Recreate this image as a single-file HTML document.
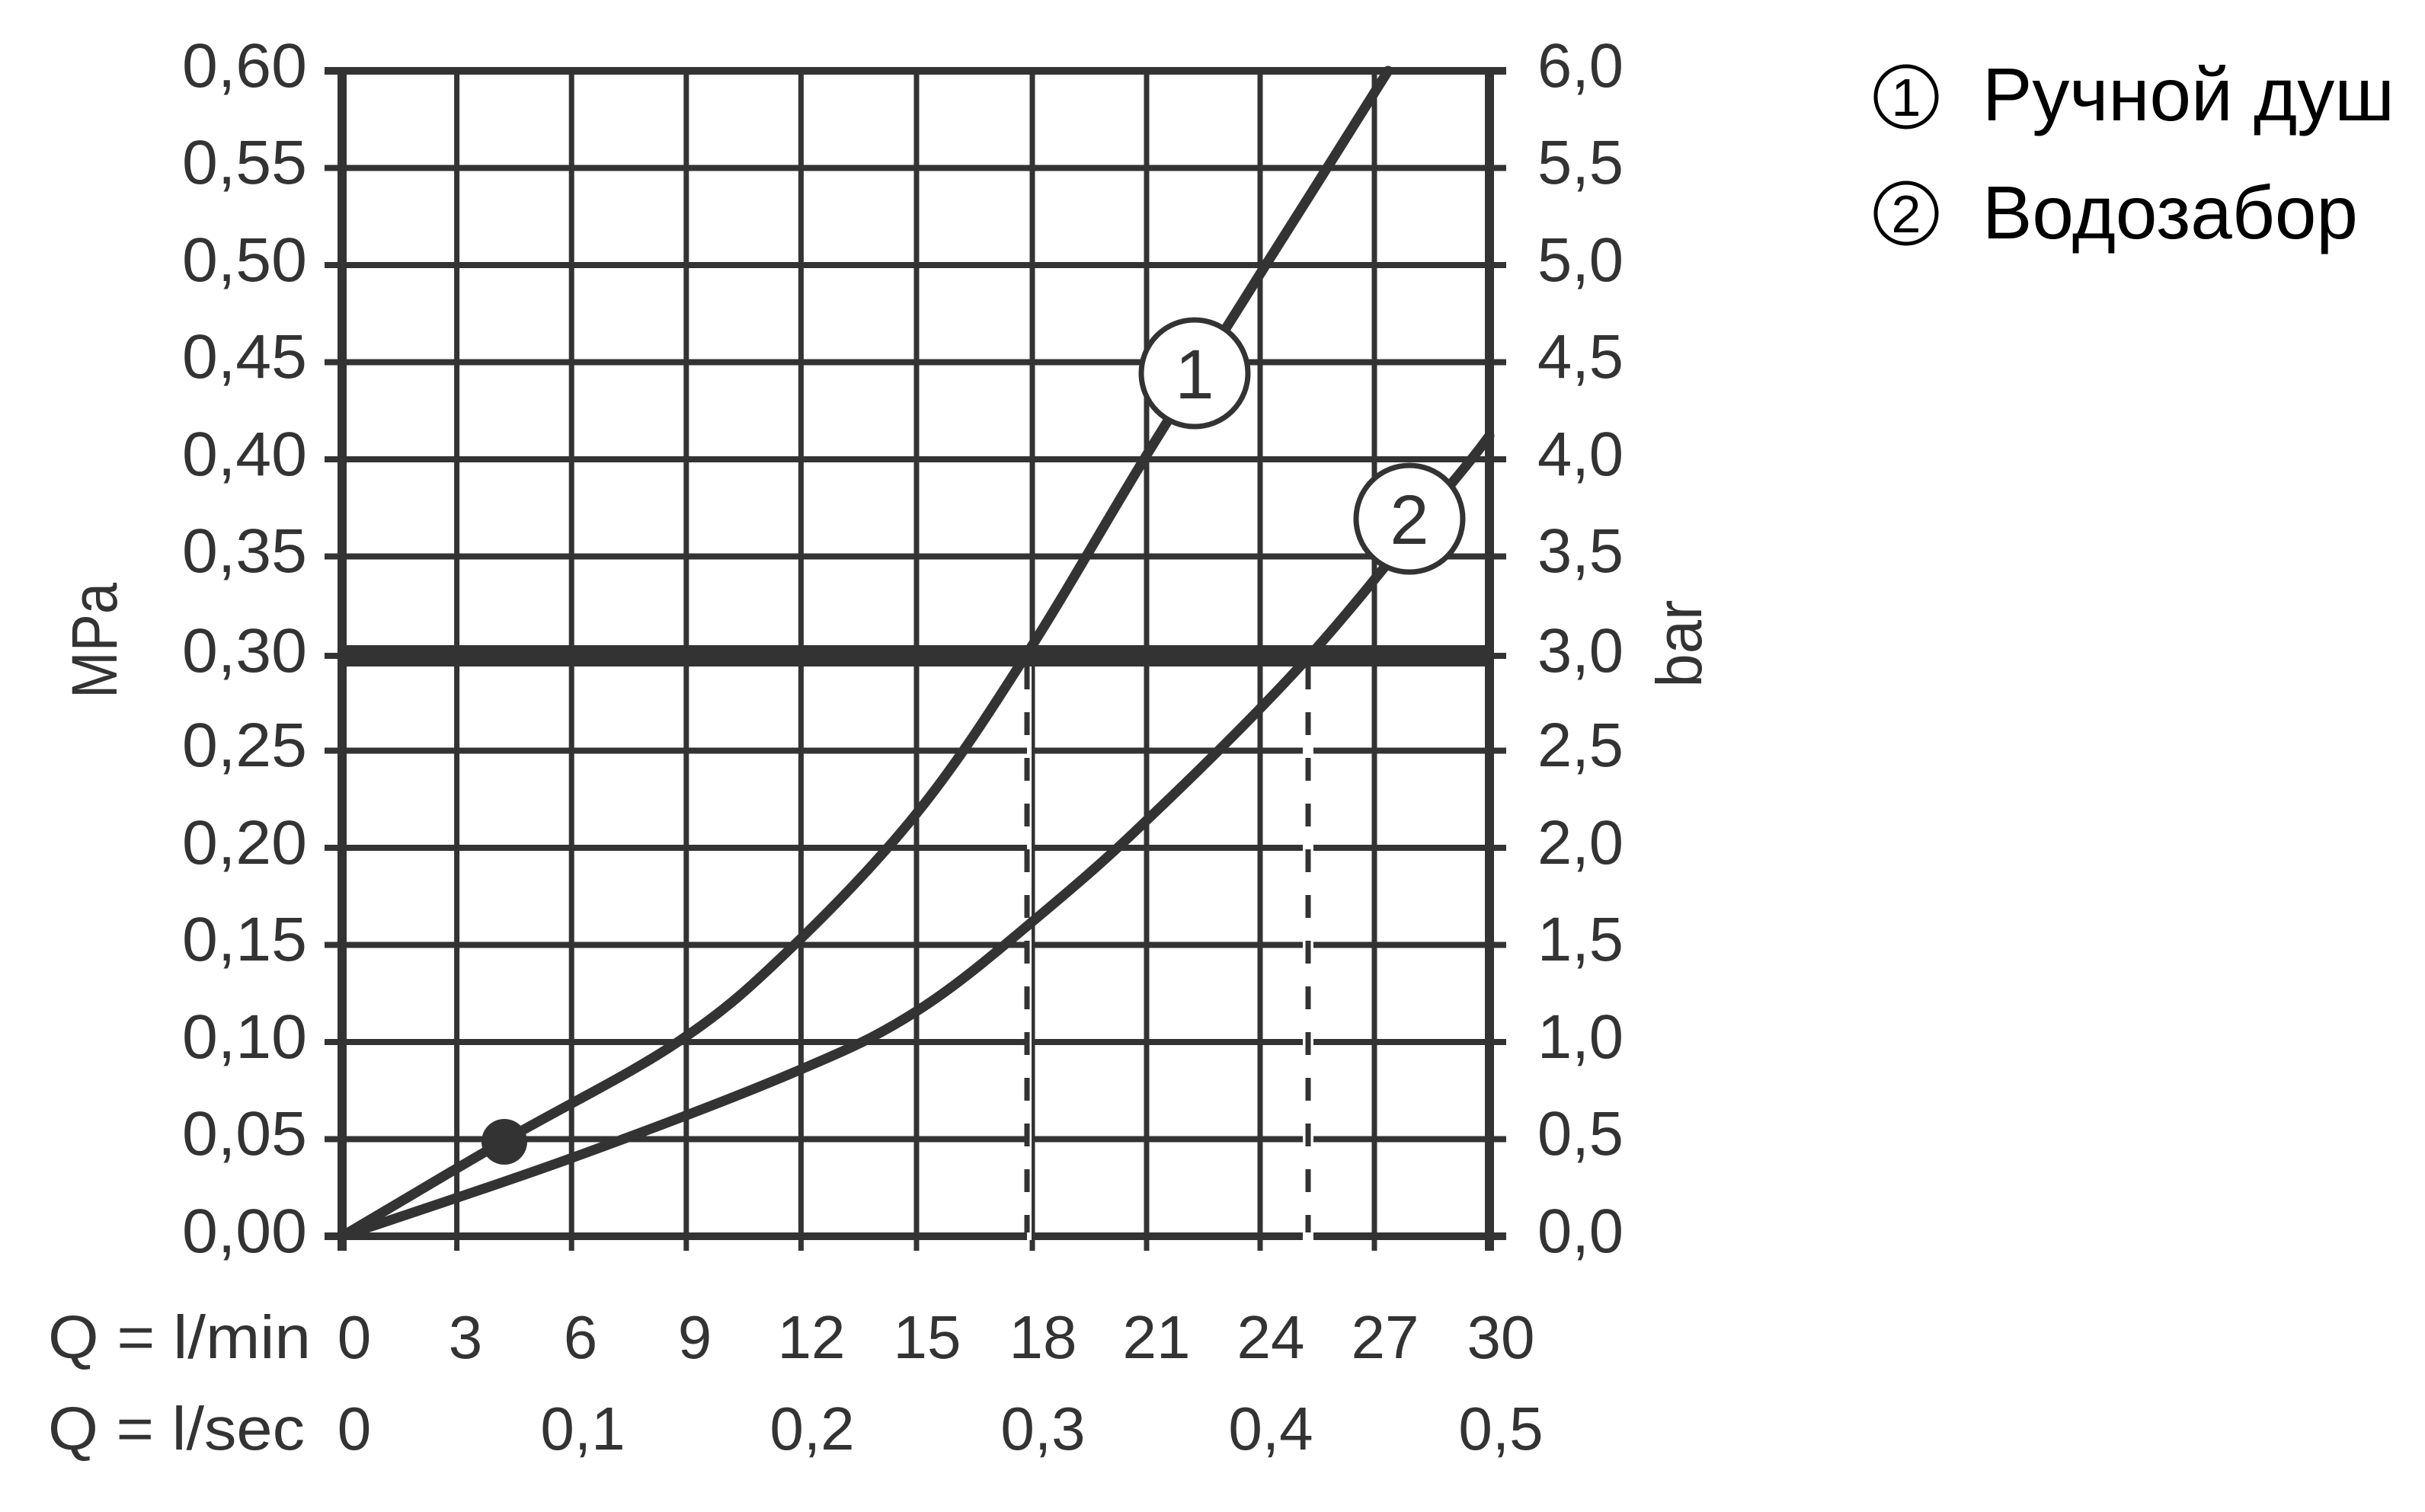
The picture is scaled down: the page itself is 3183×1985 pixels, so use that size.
<!DOCTYPE html>
<html><head><meta charset="utf-8"><style>
html,body{margin:0;padding:0;background:#fff;}
svg{display:block;}
</style></head><body>
<svg width="3183" height="1985" viewBox="0 0 3183 1985" xmlns="http://www.w3.org/2000/svg">
<rect width="3183" height="1985" fill="#fff"/>
<g stroke="#333" fill="none">
  <g stroke-width="7">
    <line x1="599.6" y1="93" x2="599.6" y2="1642"/>
    <line x1="750.2" y1="93" x2="750.2" y2="1642"/>
    <line x1="900.8" y1="93" x2="900.8" y2="1642"/>
    <line x1="1051.4" y1="93" x2="1051.4" y2="1642"/>
    <line x1="1203" y1="93" x2="1203" y2="1642"/>
    <line x1="1355" y1="93" x2="1355" y2="1642"/>
    <line x1="1505" y1="93" x2="1505" y2="1642"/>
    <line x1="1654" y1="93" x2="1654" y2="1642"/>
    <line x1="1804" y1="93" x2="1804" y2="1642"/>
  </g>
  <g stroke-width="8">
    <line x1="426" y1="220.5" x2="1977" y2="220.5"/>
    <line x1="426" y1="348" x2="1977" y2="348"/>
    <line x1="426" y1="475.5" x2="1977" y2="475.5"/>
    <line x1="426" y1="603" x2="1977" y2="603"/>
    <line x1="426" y1="730.5" x2="1977" y2="730.5"/>
    <line x1="426" y1="985.5" x2="1977" y2="985.5"/>
    <line x1="426" y1="1113" x2="1977" y2="1113"/>
    <line x1="426" y1="1240.5" x2="1977" y2="1240.5"/>
    <line x1="426" y1="1368" x2="1977" y2="1368"/>
    <line x1="426" y1="1495.5" x2="1977" y2="1495.5"/>
  </g>
  <line x1="426" y1="93" x2="1977" y2="93" stroke-width="10"/>
  <line x1="426" y1="1623" x2="1977" y2="1623" stroke-width="10"/>
  <line x1="426" y1="861" x2="1977" y2="861" stroke-width="8"/>
  <line x1="449" y1="861" x2="1955" y2="861" stroke-width="28"/>
  <line x1="449" y1="88" x2="449" y2="1642" stroke-width="12"/>
  <line x1="1955" y1="88" x2="1955" y2="1642" stroke-width="12"/>
  <line x1="1351" y1="875" x2="1351" y2="1628" stroke="#fff" stroke-width="6"/>
  <line x1="1348" y1="875" x2="1348" y2="1618" stroke-width="7" stroke-dasharray="30 30"/>
  <line x1="1717" y1="875" x2="1717" y2="1628" stroke="#fff" stroke-width="14"/>
  <line x1="1717" y1="875" x2="1717" y2="1618" stroke-width="7" stroke-dasharray="30 30"/>
  <g stroke-width="13" stroke-linejoin="round" stroke-linecap="round">
    <path d="M449,1623 C484,1602 587,1541 661,1498 C735,1455 828,1410 891,1367 C954,1325 987,1294 1040,1243 C1093,1192 1156,1127 1207,1063 C1258,999 1299,935 1348,858 C1397,782 1449,689 1501,604 C1553,519 1607,435 1660,350 C1714,265 1795,136 1822,93"/>
    <path d="M449,1623 C499,1606 652,1556 751,1520 C850,1484 969,1439 1044,1407 C1120,1375 1152,1360 1204,1327 C1256,1294 1305,1252 1355,1210 C1405,1168 1445,1135 1505,1077 C1566,1019 1651,936 1718,862 C1785,788 1866,683 1905,635 C1945,587 1947,582 1955,572"/>
  </g>
  <ellipse cx="662" cy="1499" rx="30" ry="30" fill="#333" stroke="none"/>
  <circle cx="1568" cy="490" r="70" fill="#fff" stroke-width="7"/>
  <circle cx="1850" cy="681" r="70" fill="#fff" stroke-width="7"/>
</g>
<g font-family="'Liberation Sans', sans-serif" fill="#333">
  <text x="1568" y="523" font-size="92" text-anchor="middle">1</text>
  <text x="1850" y="714" font-size="92" text-anchor="middle">2</text>
</g>
<g font-family="'Liberation Sans', sans-serif" font-size="82" fill="#333" text-anchor="end">
  <text x="403" y="114" textLength="164" lengthAdjust="spacingAndGlyphs">0,60</text>
  <text x="403" y="241" textLength="164" lengthAdjust="spacingAndGlyphs">0,55</text>
  <text x="403" y="369" textLength="164" lengthAdjust="spacingAndGlyphs">0,50</text>
  <text x="403" y="496" textLength="164" lengthAdjust="spacingAndGlyphs">0,45</text>
  <text x="403" y="624" textLength="164" lengthAdjust="spacingAndGlyphs">0,40</text>
  <text x="403" y="751" textLength="164" lengthAdjust="spacingAndGlyphs">0,35</text>
  <text x="403" y="882" textLength="164" lengthAdjust="spacingAndGlyphs">0,30</text>
  <text x="403" y="1006" textLength="164" lengthAdjust="spacingAndGlyphs">0,25</text>
  <text x="403" y="1134" textLength="164" lengthAdjust="spacingAndGlyphs">0,20</text>
  <text x="403" y="1261" textLength="164" lengthAdjust="spacingAndGlyphs">0,15</text>
  <text x="403" y="1389" textLength="164" lengthAdjust="spacingAndGlyphs">0,10</text>
  <text x="403" y="1516" textLength="164" lengthAdjust="spacingAndGlyphs">0,05</text>
  <text x="403" y="1644" textLength="164" lengthAdjust="spacingAndGlyphs">0,00</text>
</g>
<g font-family="'Liberation Sans', sans-serif" font-size="82" fill="#333">
  <text x="2018" y="114" textLength="113" lengthAdjust="spacingAndGlyphs">6,0</text>
  <text x="2018" y="241" textLength="113" lengthAdjust="spacingAndGlyphs">5,5</text>
  <text x="2018" y="369" textLength="113" lengthAdjust="spacingAndGlyphs">5,0</text>
  <text x="2018" y="496" textLength="113" lengthAdjust="spacingAndGlyphs">4,5</text>
  <text x="2018" y="624" textLength="113" lengthAdjust="spacingAndGlyphs">4,0</text>
  <text x="2018" y="751" textLength="113" lengthAdjust="spacingAndGlyphs">3,5</text>
  <text x="2018" y="882" textLength="113" lengthAdjust="spacingAndGlyphs">3,0</text>
  <text x="2018" y="1006" textLength="113" lengthAdjust="spacingAndGlyphs">2,5</text>
  <text x="2018" y="1134" textLength="113" lengthAdjust="spacingAndGlyphs">2,0</text>
  <text x="2018" y="1261" textLength="113" lengthAdjust="spacingAndGlyphs">1,5</text>
  <text x="2018" y="1389" textLength="113" lengthAdjust="spacingAndGlyphs">1,0</text>
  <text x="2018" y="1516" textLength="113" lengthAdjust="spacingAndGlyphs">0,5</text>
  <text x="2018" y="1644" textLength="113" lengthAdjust="spacingAndGlyphs">0,0</text>
</g>
<g font-family="'Liberation Sans', sans-serif" font-size="84" fill="#333">
  <text transform="translate(153,841) rotate(-90)" text-anchor="middle" textLength="152" lengthAdjust="spacingAndGlyphs">MPa</text>
  <text transform="translate(2233,845) rotate(-90)" text-anchor="middle" textLength="115" lengthAdjust="spacingAndGlyphs">bar</text>
</g>
<g font-family="'Liberation Sans', sans-serif" font-size="80" fill="#333" text-anchor="middle">
  <text x="63" y="1783" text-anchor="start" textLength="345" lengthAdjust="spacingAndGlyphs">Q = l/min</text>
  <text x="465" y="1783">0</text>
  <text x="611" y="1783">3</text>
  <text x="762" y="1783">6</text>
  <text x="912" y="1783">9</text>
  <text x="1065" y="1783">12</text>
  <text x="1217" y="1783">15</text>
  <text x="1369" y="1783">18</text>
  <text x="1518" y="1783">21</text>
  <text x="1668" y="1783">24</text>
  <text x="1818" y="1783">27</text>
  <text x="1970" y="1783">30</text>
  <text x="63" y="1903" text-anchor="start" textLength="337" lengthAdjust="spacingAndGlyphs">Q = l/sec</text>
  <text x="465" y="1903">0</text>
  <text x="765" y="1903">0,1</text>
  <text x="1066" y="1903">0,2</text>
  <text x="1369" y="1903">0,3</text>
  <text x="1668" y="1903">0,4</text>
  <text x="1970" y="1903">0,5</text>
</g>
<g fill="none" stroke="#000" stroke-width="5">
  <circle cx="2502" cy="127" r="40"/>
  <circle cx="2502" cy="280" r="40"/>
</g>
<g font-family="'Liberation Sans', sans-serif" fill="#000">
  <text x="2502" y="152" font-size="70" text-anchor="middle">1</text>
  <text x="2502" y="305" font-size="70" text-anchor="middle">2</text>
  <text x="2602" y="158" font-size="98">Ручной душ</text>
  <text x="2602" y="313" font-size="98">Водозабор</text>
</g>
</svg>
</body></html>
